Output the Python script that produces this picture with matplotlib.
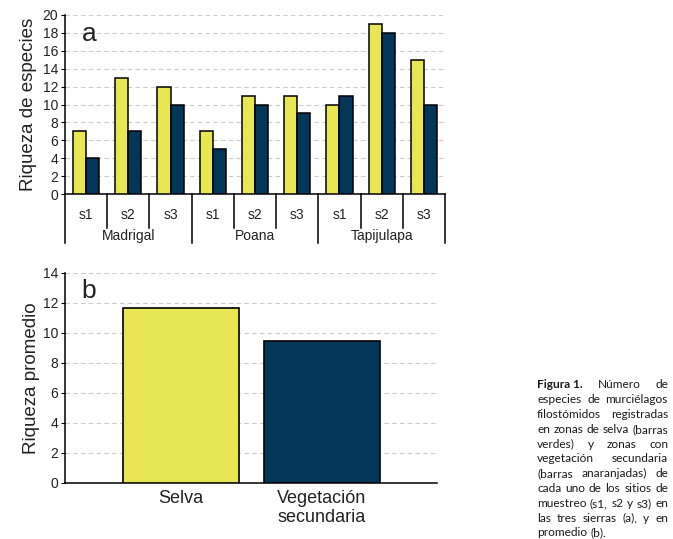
import numpy as np
import matplotlib
matplotlib.use('Agg')
import matplotlib.pyplot as plt
import matplotlib.transforms as mtransforms

plt.rcParams['font.family'] = ['Liberation Sans', 'DejaVu Sans']

### Data
sierras = ['Madrigal', 'Poana', 'Tapijulapa']
sitios = ['s1', 's2', 's3']
selva = [7, 13, 12, 7, 11, 11, 10, 19, 15]
secundaria = [4, 7, 10, 5, 10, 9, 11, 18, 10]
prom_cats = ['Selva', 'Vegetación\nsecundaria']
prom_vals = [11.7, 9.5]

yellow = '#e8e652'
navy = '#04365a'
grid_kw = dict(linestyle=(0, (4, 3)), color='#cccccc', lw=0.8)

fig = plt.figure(figsize=(6.73, 5.39), dpi=100)

### Panel a
ax = fig.add_axes([65/673, 1-194/539, 380/673, 179/539])
x = np.arange(len(selva))
w = 0.31
ax.bar(x - w/2, selva, w, color=yellow, edgecolor='black', lw=1.1, zorder=3)
ax.bar(x + w/2, secundaria, w, color=navy, edgecolor='black', lw=1.1, zorder=3)
ax.set_xlim(-0.5, len(selva) - 0.5)
ax.set_ylim(0, 20)
ax.set_yticks(range(0, 21, 2))
ax.yaxis.grid(True, **grid_kw)
ax.set_axisbelow(True)
for s in ['top', 'right']:
    ax.spines[s].set_visible(False)
ax.spines['left'].set_linewidth(1.1)
ax.spines['bottom'].set_linewidth(1.1)
ax.set_xticks(x, sitios * len(sierras), fontsize=10, color='#222222')
ax.tick_params(axis='x', length=0, pad=10)
ax.tick_params(axis='y', length=3, labelsize=10, labelcolor='#222222', pad=2)
ax.set_ylabel('Riqueza de especies', fontsize=13.5, color='#222222', labelpad=4)

trans = mtransforms.blended_transform_factory(ax.transData, ax.transAxes)
for i in range(len(selva) + 1):
    depth = -0.275 if i % 3 == 0 else -0.19
    ax.plot([i - 0.5, i - 0.5], [0, depth], color='black', lw=1.1,
            transform=trans, clip_on=False)
for j, name in enumerate(sierras):
    ax.text(j*3 + 1, -0.235, name, transform=trans, ha='center', va='center',
            fontsize=10, color='#222222')
ax.text(0.045, 0.96, 'a', transform=ax.transAxes, fontsize=19, va='top', color='#222222')

### Panel b
bx = fig.add_axes([65/673, 1-483/539, 372/673, 210/539])
xb = np.arange(len(prom_vals))
bx.bar(xb, prom_vals, 0.826, color=[yellow, navy], edgecolor='black', lw=1.2, zorder=3)
bx.set_xlim(-0.826, 1.822)
bx.set_ylim(0, 14)
bx.set_yticks(range(0, 15, 2))
bx.yaxis.grid(True, **grid_kw)
bx.set_axisbelow(True)
for s in ['top', 'right']:
    bx.spines[s].set_visible(False)
bx.spines['left'].set_linewidth(1.1)
bx.spines['bottom'].set_linewidth(1.1)
bx.set_xticks(xb, prom_cats, fontsize=13, color='#222222', linespacing=1.15)
bx.tick_params(axis='x', length=0, pad=5)
bx.tick_params(axis='y', length=3, labelsize=10, labelcolor='#222222', pad=2)
bx.set_ylabel('Riqueza promedio', fontsize=13.5, color='#222222', labelpad=2)
bx.text(0.045, 0.97, 'b', transform=bx.transAxes, fontsize=19, va='top', color='#222222')

### Caption (justified)
caption = [
    [('Figura 1.', 'bold'), ('Número', 'normal'), ('de', 'normal')],
    'especies de murciélagos',
    'filostómidos registradas',
    'en zonas de selva (barras',
    'verdes) y zonas con',
    'vegetación secundaria',
    '(barras anaranjadas) de',
    'cada uno de los sitios de',
    'muestreo (s1, s2 y s3) en',
    'las tres sierras (a), y en',
    'promedio (b).',
]
renderer = fig.canvas.get_renderer()
x0, x1 = 537, 668
y_start, dy = 385, 14.8
for k, line in enumerate(caption):
    if isinstance(line, str):
        words = [(wd, 'normal') for wd in line.split()]
    else:
        words = line
    y = 1 - (y_start + k*dy) / 539
    texts = [fig.text(0, y, wd, fontsize=8.6, family='Lato', weight=wt,
                      color='#1a1a1a', va='center') for wd, wt in words]
    widths = [t.get_window_extent(renderer).width for t in texts]
    last = k == len(caption) - 1
    if last or len(words) == 1:
        gap = 3.0
    else:
        gap = max(2.0, (x1 - x0 - sum(widths)) / (len(words) - 1))
    pos = x0
    for t, wdt in zip(texts, widths):
        t.set_x(pos / 673)
        pos += wdt + gap

fig.savefig('out.png', dpi=100)
